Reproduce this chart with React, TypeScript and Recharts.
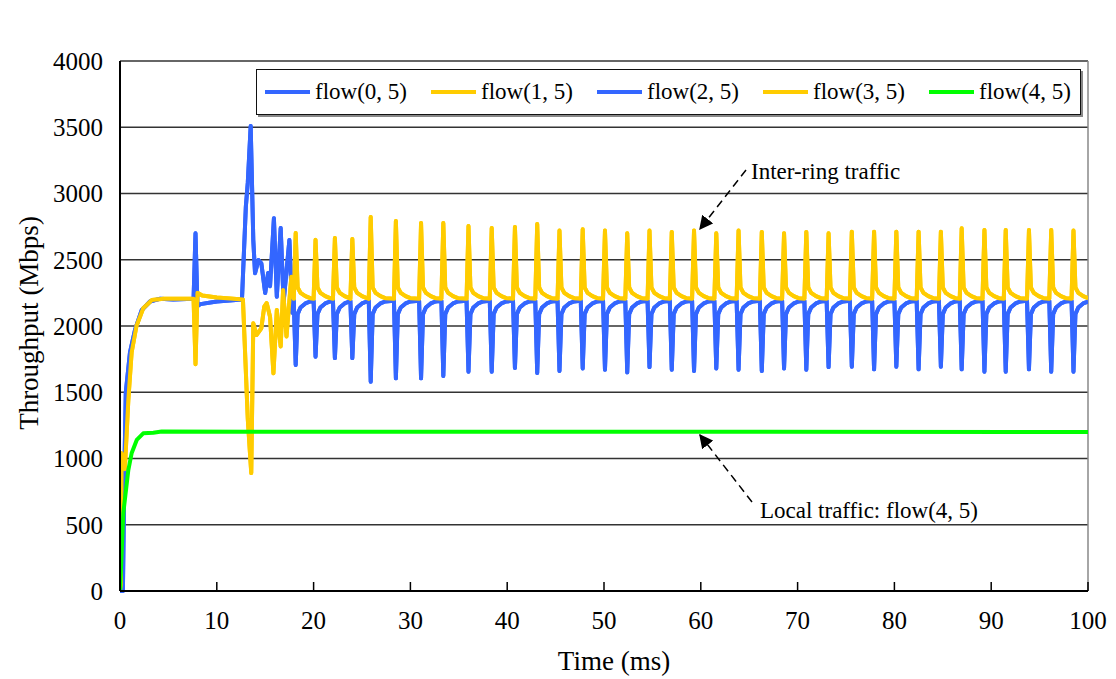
import { LineChart, Line, XAxis, YAxis, CartesianGrid, ReferenceLine } from 'recharts'

// time axis (ms) and throughput axis (Mbps)
const xTicks = [0, 10, 20, 30, 40, 50, 60, 70, 80, 90, 100]
const yTicks = [0, 500, 1000, 1500, 2000, 2500, 3000, 3500, 4000]

// start-up phase: [time, Mbps]
const blueStart: [number, number][] = [
  [0, 0], [0.3, 0], [0.45, 900], [0.6, 1500], [1.03, 1800], [1.55, 1970], [2.24, 2120],
  [3.1, 2185], [4.1, 2205], [5.5, 2200], [7.6, 2205], [7.8, 2700], [8.0, 2150], [8.3, 2165],
  [10, 2185], [12.6, 2200], [13.0, 2900], [13.2, 3080], [13.5, 3509], [13.77, 2649],
  [13.95, 2398], [14.3, 2498], [14.6, 2473], [15.0, 2249], [15.3, 2400], [15.5, 2300],
  [15.9, 2813], [16.2, 2221], [16.6, 2739], [16.9, 2180], [17.5, 2649], [17.8, 2100],
]
const yellowStart: [number, number][] = [
  [0, 0], [0.1, 50], [0.17, 1040], [0.5, 920], [0.86, 1440], [1.2, 1800], [1.7, 2000],
  [2.4, 2134], [3.3, 2196], [4.5, 2205], [7.6, 2205], [7.8, 1711], [8.0, 2250], [8.5, 2230],
  [10, 2215], [12.7, 2200], [13.2, 1300], [13.56, 890], [13.77, 2020], [14.1, 1932],
  [14.6, 1983], [14.9, 2146], [15.15, 2173], [15.5, 2070], [15.85, 1643], [16.2, 2121],
  [16.6, 1845], [16.85, 2272], [17.2, 1921], [17.7, 2372], [17.8, 2250],
]
const greenPoints: [number, number][] = [
  [0, 0], [0.34, 586], [0.86, 913], [1.2, 1039], [1.73, 1140], [2.4, 1190], [3.44, 1195],
  [4.3, 1203], [100, 1200],
]

// periodic part: spike times and the peak / dip of each spike
const spikeTimes = [
  18.15, 20.2, 22.2, 24.0, 25.9, 28.5, 31.1, 33.4, 36.0, 38.4, 40.8, 43.1, 45.4, 47.8,
  50.1, 52.4, 54.7, 57.0, 59.3, 61.6, 63.9, 66.3, 68.6, 70.9, 73.2, 75.6, 77.9, 80.2,
  82.5, 84.8, 86.95, 89.3, 91.5, 93.9, 96.2, 98.5,
]
const yellowPeaks = [
  2702, 2650, 2664, 2657, 2823, 2792, 2777, 2777, 2755, 2740, 2747, 2770, 2720, 2730,
  2720, 2700, 2720, 2710, 2720, 2700, 2720, 2710, 2700, 2710, 2700, 2712, 2712, 2712,
  2712, 2712, 2737, 2725, 2725, 2725, 2725, 2720,
]
const blueDips = [
  1706, 1768, 1758, 1758, 1580, 1605, 1605, 1623, 1655, 1655, 1683, 1645, 1660, 1680,
  1670, 1650, 1690, 1670, 1660, 1680, 1670, 1660, 1680, 1670, 1690, 1693, 1673, 1693,
  1673, 1693, 1673, 1655, 1655, 1673, 1655, 1655,
]
// shape of one spike around its time
const spikeOffsets = [-0.2, 0, 0.2, 0.5, 1.0, 1.5]
const yellowShape = [2205, 0, 2290, 2250, 2225, 2210]
const blueShape = [2190, 0, 2090, 2140, 2170, 2185]

function build(start: [number, number][], extremes: number[], shape: number[]) {
  const pts = start.map(([t, v]) => ({ t, v }))
  spikeTimes.forEach((s, i) => {
    spikeOffsets.forEach((o, k) => {
      pts.push({ t: +(s + o).toFixed(3), v: k === 1 ? extremes[i] : shape[k] })
    })
  })
  return pts
}

const blueData = build(blueStart, blueDips, blueShape)
const yellowData = build(yellowStart, yellowPeaks, yellowShape)
const greenData = greenPoints.map(([t, v]) => ({ t, v }))

const series = [
  { name: 'flow(0, 5)', color: '#3366FF', data: blueData },
  { name: 'flow(1, 5)', color: '#FFCC00', data: yellowData },
  { name: 'flow(2, 5)', color: '#3366FF', data: blueData },
  { name: 'flow(3, 5)', color: '#FFCC00', data: yellowData },
  { name: 'flow(4, 5)', color: '#00FF00', data: greenData },
]

const FONT = '"Liberation Serif", "Times New Roman", serif'

function XTick(props: any) {
  const { x, y, payload } = props
  return (
    <g>
      <line x1={x} x2={x} y1={y - 9} y2={y} stroke="#000" strokeWidth={1.5} />
      <text x={x} y={y + 38} textAnchor="middle" fontSize={25} fontFamily={FONT} fill="#000">
        {payload.value}
      </text>
    </g>
  )
}

export default function App() {
  return (
    <div style={{ position: 'absolute', left: 0, top: 0, width: 1116, height: 679, background: '#fff' }}>
      <LineChart width={1116} height={679} margin={{ top: 61, right: 28, bottom: 58, left: 60 }}>
        <CartesianGrid vertical={false} stroke="#333" strokeWidth={1.5} />
        <XAxis type="number" dataKey="t" domain={[0, 100]} ticks={xTicks} allowDataOverflow
          height={30} tickLine={false} tickSize={0} tickMargin={0} tick={<XTick />}
          axisLine={{ stroke: '#000', strokeWidth: 2 }} />
        <YAxis type="number" domain={[0, 4000]} ticks={yTicks} width={60} tickLine={false}
          tickSize={0} tickMargin={17} axisLine={{ stroke: '#000', strokeWidth: 2 }}
          tick={{ fill: '#000', fontSize: 25, fontFamily: FONT }} />
        <ReferenceLine x={100} stroke="#888" strokeWidth={1.5} />
        {series.map(s => (
          <Line key={s.name} data={s.data} dataKey="v" type="linear" stroke={s.color}
            strokeWidth={4} dot={false} isAnimationActive={false} strokeLinejoin="round" />
        ))}
      </LineChart>

      <div style={{
        position: 'absolute', left: 256, top: 69, width: 825, height: 46, boxSizing: 'border-box',
        border: '1.5px solid #111', boxShadow: '2px 2px 0 #888', background: '#fff',
        display: 'flex', alignItems: 'center', paddingLeft: 8, fontFamily: FONT, fontSize: 23,
      }}>
        {series.map(s => (
          <div key={s.name} style={{ width: 166, flexShrink: 0, display: 'flex', alignItems: 'center' }}>
            <span style={{ display: 'inline-block', width: 45, height: 3.5, background: s.color, marginRight: 5 }} />
            <span>{s.name}</span>
          </div>
        ))}
      </div>

      <svg width={1116} height={679} style={{ position: 'absolute', left: 0, top: 0, pointerEvents: 'none' }}>
        <defs>
          <marker id="arr" viewBox="0 0 10 10" refX="9" refY="5" markerWidth="14" markerHeight="14"
            markerUnits="userSpaceOnUse" orient="auto">
            <path d="M0,0 L10,5 L0,10 z" fill="#000" />
          </marker>
        </defs>
        <line x1={746} y1={170} x2={700} y2={229} stroke="#000" strokeWidth={1.5}
          strokeDasharray="8 5" markerEnd="url(#arr)" />
        <text x={751} y={179} fontSize={23} fontFamily={FONT} fill="#000">Inter-ring traffic</text>
        <line x1={752} y1={502} x2={700} y2={435} stroke="#000" strokeWidth={1.5}
          strokeDasharray="8 5" markerEnd="url(#arr)" />
        <text x={760} y={518} fontSize={23} fontFamily={FONT} fill="#000">Local traffic: flow(4, 5)</text>
        <text x={614} y={670} textAnchor="middle" fontSize={27} fontFamily={FONT} fill="#000">Time (ms)</text>
        <text transform="translate(38,323) rotate(-90)" textAnchor="middle" fontSize={27}
          fontFamily={FONT} fill="#000">Throughput (Mbps)</text>
      </svg>
    </div>
  )
}
